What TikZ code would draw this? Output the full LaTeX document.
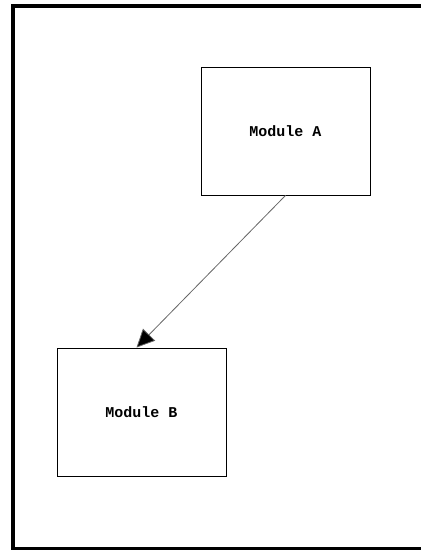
\documentclass[tikz,border=0pt]{standalone}
\usepackage{fontspec}
\newfontfamily\modfont{Liberation Mono}
\usetikzlibrary{positioning,arrows.meta}

\begin{document}
\begin{tikzpicture}[x=1pt, y=-1pt,
  module/.style={draw, line width=0.9pt, minimum width=169pt, minimum height=128pt,
                 font=\modfont\bfseries\fontsize{15}{17}\selectfont},
  link/.style={draw=black!60, line width=0.8pt, -{Triangle[length=18pt,width=17pt,fill=black]}}]
\useasboundingbox (0,0) rectangle (421,550);
% outer frame (open on the right)
\draw[line width=4pt] (421,6) -- (13,6) -- (13,548.5) -- (421,548.5);
\node[module] (modA) at (285.5,131) {Module A};
\node[module] (modB) at (141.5,412) {Module B};
\draw[link] (modA.south) -- ([xshift=-5pt]modB.north);
\end{tikzpicture}
\end{document}
